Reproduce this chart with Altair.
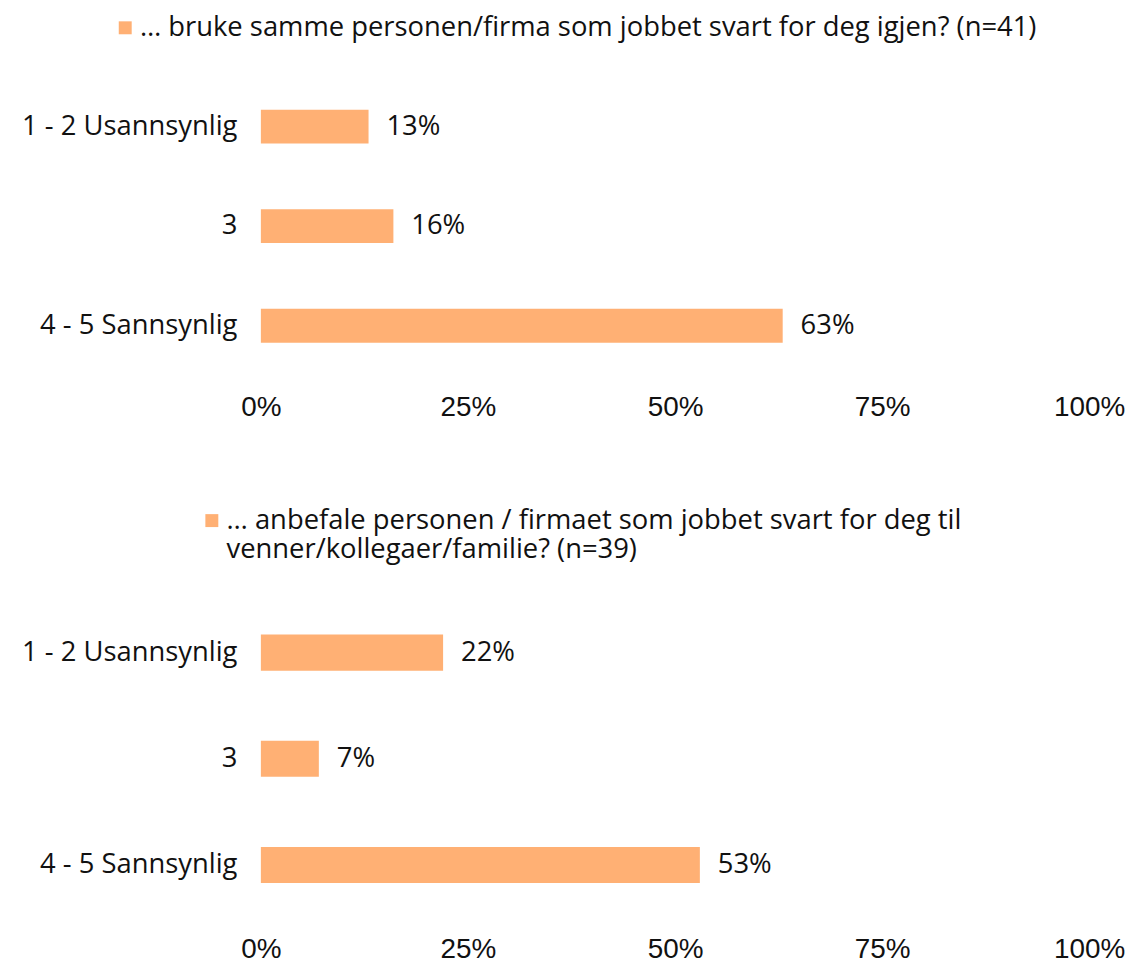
import altair as alt
import pandas as pd

CATEGORIES = ["1 - 2 Usannsynlig", "3", "4 - 5 Sannsynlig"]
SERIES_1 = "… bruke samme personen/firma som jobbet svart for deg igjen? (n=41)"
VALUES_1 = [13, 16, 63]
SERIES_2 = "… anbefale personen / firmaet som jobbet svart for deg til\nvenner/kollegaer/familie? (n=39)"
VALUES_2 = [22, 7, 53]
TICKS = [0, 25, 50, 75, 100]

BAR_COLOR = "#FFB074"
TEXT_COLOR = "#111111"
MAIN_FONT = "Open Sans"
TICK_FONT = "Liberation Sans"
FS = 27.5


def panel(series, values, height, legend_x, legend_y):
    df = pd.DataFrame({"kategori": CATEGORIES, "andel": values, "serie": [series] * len(values)})
    base = alt.Chart(df).encode(
        y=alt.Y(
            "kategori:N",
            sort=CATEGORIES,
            scale=alt.Scale(paddingInner=0.66, paddingOuter=0.33),
            axis=alt.Axis(
                title=None, domain=False, ticks=False, labelPadding=24,
                labelFont=MAIN_FONT, labelFontSize=FS, labelColor=TEXT_COLOR,
                minExtent=249, maxExtent=249, labelLimit=1000,
            ),
        ),
        x=alt.X(
            "andel:Q",
            scale=alt.Scale(domain=[0, 100]),
            axis=alt.Axis(
                values=TICKS, labelExpr="datum.value + '%'", title=None, grid=False,
                domain=False, ticks=False, labelPadding=18, labelFont=TICK_FONT,
                labelFontSize=28, labelColor=TEXT_COLOR, labelLimit=1000,
                labelFlush=False,
            ),
        ),
    )
    bars = base.mark_bar().encode(
        color=alt.Color(
            "serie:N",
            scale=alt.Scale(range=[BAR_COLOR]),
            legend=alt.Legend(
                title=None, orient="none", legendX=legend_x, legendY=legend_y,
                direction="horizontal", symbolType="square", symbolSize=169,
                symbolStrokeWidth=0, labelFont=MAIN_FONT, labelFontSize=FS,
                labelColor=TEXT_COLOR, labelLimit=2000, labelOffset=1, padding=0,
                labelExpr="split(datum.label, '\\n')",
            ),
        )
    )
    text = base.transform_calculate(lbl="datum.andel + '%'").mark_text(
        align="left", dx=18, font=MAIN_FONT, fontSize=FS, color=TEXT_COLOR
    ).encode(text="lbl:N")
    return (bars + text).properties(width=832, height=height)


p1 = panel(SERIES_1, VALUES_1, 300, -150, -63)
p2 = panel(SERIES_2, VALUES_2, 320, -63, -93)

chart = (
    alt.vconcat(p1, p2, spacing=86)
    .resolve_scale(color="independent")
    .resolve_legend(color="independent")
    .properties(padding={"left": 5, "top": 4, "right": 0, "bottom": 0})
    .configure_view(stroke=None, strokeWidth=0)
)

chart.save("out.html", embed_options={"renderer": "svg", "actions": False})
